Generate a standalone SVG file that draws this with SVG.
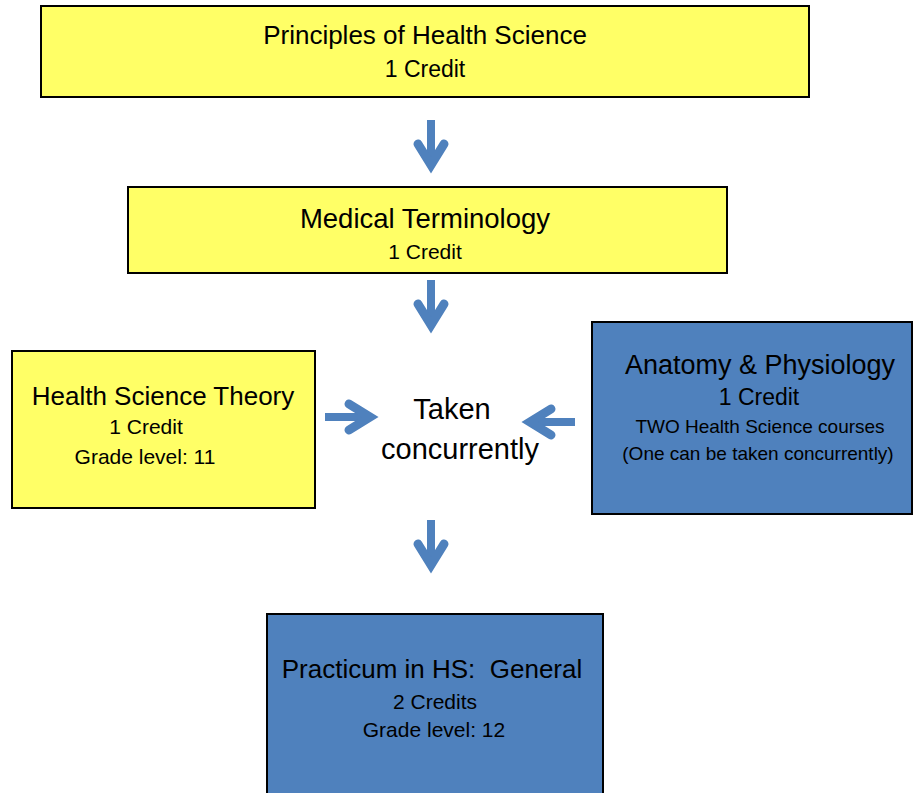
<svg xmlns="http://www.w3.org/2000/svg" xmlns:xlink="http://www.w3.org/1999/xlink" width="914" height="793" viewBox="0 0 914 793">
  <style>
    .yellow { fill: #FFFF66; stroke: #000000; stroke-width: 2; }
    .blue { fill: #4F81BD; stroke: #000000; stroke-width: 2; }
    text { font-family: "Liberation Sans", Arial, sans-serif; fill: #000000; text-anchor: middle; }
    .t { font-size: 26px; }
    .c { font-size: 23px; }
    .s { font-size: 21px; }
    .x { font-size: 19px; }
    .m { font-size: 29px; }
  </style>
  <defs>
    <g id="arrowDown">
      <line x1="0" y1="0" x2="0" y2="42" stroke="#4F81BD" stroke-width="8"/>
      <polyline points="-13,24 0,45 13,24" fill="none" stroke="#4F81BD" stroke-width="9" stroke-linecap="round" stroke-linejoin="miter" stroke-miterlimit="10"/>
    </g>
  </defs>

  <g id="principles">
    <rect class="yellow" x="41" y="6" width="768" height="91"/>
    <text class="t" x="425" y="44">Principles of Health Science</text>
    <text class="c" x="425" y="77">1 Credit</text>
  </g>

  <g id="medical-terminology">
    <rect class="yellow" x="128" y="187" width="599" height="86"/>
    <text class="t" x="425" y="228" style="font-size:27.5px">Medical Terminology</text>
    <text class="s" x="425" y="259">1 Credit</text>
  </g>

  <g id="health-science-theory">
    <rect class="yellow" x="12" y="351" width="303" height="157"/>
    <text class="t" x="163" y="405">Health Science Theory</text>
    <text class="s" x="146" y="434">1 Credit</text>
    <text class="s" x="145" y="464">Grade level: 11</text>
  </g>

  <g id="taken-concurrently">
    <text class="m" x="452" y="419">Taken</text>
    <text class="m" x="460" y="459">concurrently</text>
  </g>

  <g id="anatomy-physiology">
    <rect class="blue" x="592" y="322" width="320" height="192"/>
    <text class="t" x="760" y="374" style="font-size:27px">Anatomy &amp; Physiology</text>
    <text class="c" x="759" y="405">1 Credit</text>
    <text class="x" x="760" y="433">TWO Health Science courses</text>
    <text class="x" x="758" y="460">(One can be taken concurrently)</text>
  </g>

  <g id="practicum">
    <rect class="blue" x="267" y="614" width="336" height="190"/>
    <text class="t" x="432" y="678" xml:space="preserve">Practicum in HS:  General</text>
    <text class="s" x="435" y="709">2 Credits</text>
    <text class="s" x="434" y="737">Grade level: 12</text>
  </g>

  <g id="connectors">
    <use xlink:href="#arrowDown" transform="translate(431,120)"/>
    <use xlink:href="#arrowDown" transform="translate(431,280)"/>
    <use xlink:href="#arrowDown" transform="translate(325,417) rotate(-90)"/>
    <use xlink:href="#arrowDown" transform="translate(575,422) rotate(90)"/>
    <use xlink:href="#arrowDown" transform="translate(431,520)"/>
  </g>
</svg>
